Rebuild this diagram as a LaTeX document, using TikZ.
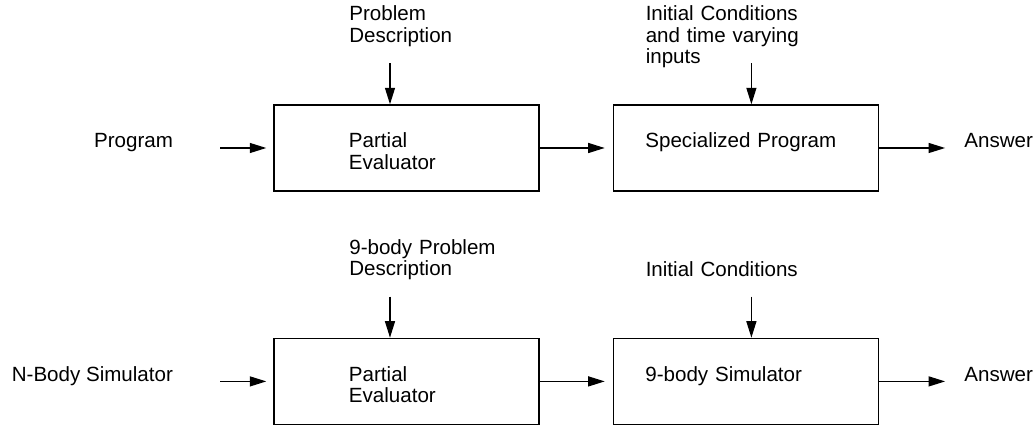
\documentclass[tikz,border=0pt]{standalone}
\usepackage{fontspec}
\setmainfont{Liberation Sans}
\usepackage{tikz}
\usetikzlibrary{arrows.meta,positioning}

\begin{document}
\begin{tikzpicture}[node distance=1.46cm, font=\fontsize{11.7}{12.2}\selectfont]
	\tikzstyle{block} = [rectangle, draw=black, line width=0.8pt, align=left, 
	inner ysep=0pt, text height=0.86cm, text depth=0.86cm]
	\tikzstyle{lbl} = [align=left, text width=3.5cm, inner sep=0pt]
	\tikzstyle{arrow} = [line width=0.7pt, -{Triangle[length=0.33cm, width=0.2cm]}]
	\useasboundingbox (-8.13,2.96) rectangle (12.53,-5.56);
	% top row
	\node (evaluator1) [block, inner xsep=1.5cm, text width=2.3cm] {Partial\\Evaluator};
	\node (specialized) [block, inner xsep=0.64cm, text width=4.02cm, right=of evaluator1] {Specialized Program};
	\node (program) [anchor=base east, inner sep=0pt] at ([xshift=-2cm]evaluator1.west) {Program};
	\node (answer1) [anchor=base west, inner sep=0pt] at ([xshift=1.7cm]specialized.east) {Answer};
	\node (problem1) [lbl, anchor=base west] at ([yshift=2.54cm]evaluator1.text) {Problem\\Description};
	\node (initial1) [lbl, anchor=base west] at ([yshift=2.54cm]specialized.text) {Initial Conditions\\and time varying\\inputs};
	% bottom row
	\node (evaluator2) [block, inner xsep=1.5cm, text width=2.3cm, below=2.92cm of evaluator1] {Partial\\Evaluator};
	\node (simulator) [block, inner xsep=0.64cm, text width=4.02cm, right=of evaluator2] {9-body Simulator};
	\node (nbody) [anchor=base east, inner sep=0pt] at ([xshift=-2cm]evaluator2.west) {N-Body Simulator};
	\node (answer2) [anchor=base west, inner sep=0pt] at ([xshift=1.7cm]simulator.east) {Answer};
	\node (problem2) [lbl, anchor=base west] at ([yshift=2.54cm]evaluator2.text) {9-body Problem\\Description};
	\node (initial2) [lbl, anchor=base west] at ([yshift=2.1cm]simulator.text) {Initial Conditions};
	% free ends of the input arrows
	\coordinate (feed1) at ([xshift=-0.33cm, yshift=0.82cm]evaluator1.north);
	\coordinate (feed2) at ([xshift=0.11cm, yshift=0.82cm]specialized.north);
	\coordinate (feed3) at ([xshift=-0.33cm, yshift=0.82cm]evaluator2.north);
	\coordinate (feed4) at ([xshift=0.11cm, yshift=0.82cm]simulator.north);
	\draw [arrow] (feed1) -- (feed1 |- evaluator1.north);
	\draw [arrow] (feed2) -- (feed2 |- specialized.north);
	\draw [arrow] (feed3) -- (feed3 |- evaluator2.north);
	\draw [arrow] (feed4) -- (feed4 |- simulator.north);
	\draw [arrow, shorten <=0.94cm, shorten >=0.14cm] (program.base east) -- (evaluator1.west);
	\draw [arrow, shorten >=0.16cm] (evaluator1) -- (specialized);
	\draw [arrow, shorten >=0.38cm] (specialized.east) -- (answer1.base west);
	\draw [arrow, shorten <=0.94cm, shorten >=0.14cm] (nbody.base east) -- (evaluator2.west);
	\draw [arrow, shorten >=0.16cm] (evaluator2) -- (simulator);
	\draw [arrow, shorten >=0.38cm] (simulator.east) -- (answer2.base west);
\end{tikzpicture}
\end{document}
